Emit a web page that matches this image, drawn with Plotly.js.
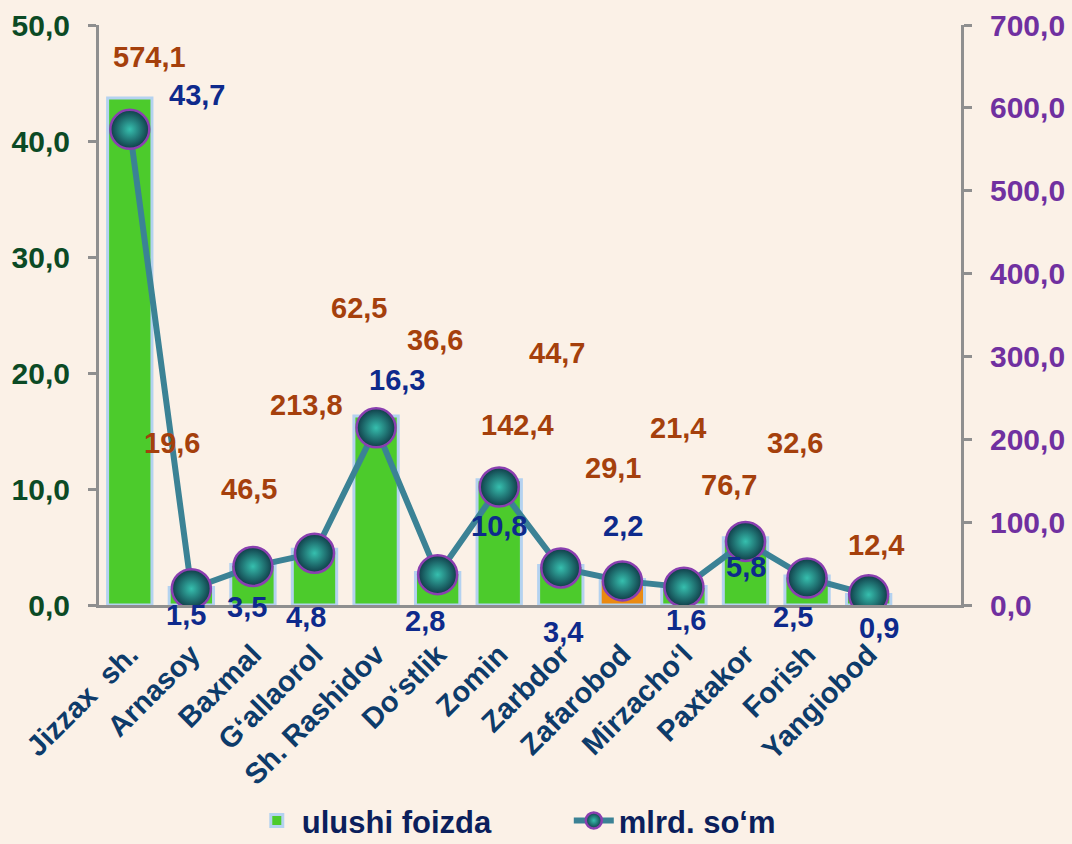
<!DOCTYPE html>
<html>
<head>
<meta charset="utf-8">
<script src="https://cdn.plot.ly/plotly-3.0.1.min.js"></script>
<style>
  html, body { margin: 0; padding: 0; background: #fbf1e7; }
  #chart { width: 1072px; height: 844px; }
</style>
</head>
<body>
<div id="chart"></div>
<script>
// ---- data ----
const categories = ["Jizzax\u00a0 sh.", "Arnasoy", "Baxmal", "G\u2018allaorol", "Sh. Rashidov", "Do\u2018stlik", "Zomin", "Zarbdor", "Zafarobod", "Mirzacho\u2018l", "Paxtakor", "Forish", "Yangiobod"];
const shareValues = [43.7, 1.5, 3.5, 4.8, 16.3, 2.8, 10.8, 3.4, 2.2, 1.6, 5.8, 2.5, 0.9];      // ulushi foizda
const amountValues = [574.1, 19.6, 46.5, 62.5, 213.8, 36.6, 142.4, 44.7, 29.1, 21.4, 76.7, 32.6, 12.4]; // mlrd. so'm
const seriesNames = ["ulushi foizda", "mlrd. so\u2018m"];

// ---- styles (not data) ----
const barColors = categories.map((c, i) => i === 8 ? "#ea8a12" : "#4ccb2c");
const shareLabelShift = [[67, 3], [-5, -27], [-6, -43], [-9, -68], [21, 36], [-13, -48], [0, -46], [2, -66], [1, 53], [2, -34], [0, -29], [-14, -41], [10, -33]];
const amountLabelShift = [[20, 72], [-19, 146], [-4, 77], [44, 245], [-70, 23], [-3, 235], [18, 62], [-4, 215], [-9, 113], [-6, 159], [-17, 56], [-12, 135], [7, 50]];

const fmt = v => v.toFixed(1).replace(".", ",");
const FAM = "Liberation Sans, Arial, sans-serif";
const labelFont = { family: FAM, size: 29, weight: "bold" };

const traces = [
  {
    type: "bar",
    name: seriesNames[0],
    x: categories,
    y: shareValues,
    width: 0.72,
    marker: { color: barColors, line: { color: "#b4d2f0", width: 3 } },
    yaxis: "y",
    hoverinfo: "x+y"
  },
  {
    type: "scatter",
    mode: "lines+markers",
    name: seriesNames[1],
    x: categories,
    y: amountValues,
    yaxis: "y2",
    line: { color: "#3b8295", width: 6 },
    marker: {
      size: 39,
      color: "#103c48",
      gradient: { type: "radial", color: "#36bfae" },
      line: { color: "#8a3fb0", width: 2.5 }
    }
  }
];

const annotations = [];
categories.forEach((c, i) => {
  annotations.push({
    x: c, y: shareValues[i], xref: "x", yref: "y",
    text: fmt(shareValues[i]), showarrow: false,
    xshift: shareLabelShift[i][0], yshift: shareLabelShift[i][1],
    font: Object.assign({ color: "#0e2a8c" }, labelFont)
  });
  annotations.push({
    x: c, y: amountValues[i], xref: "x", yref: "y2",
    text: fmt(amountValues[i]), showarrow: false,
    xshift: amountLabelShift[i][0], yshift: amountLabelShift[i][1],
    font: Object.assign({ color: "#a5400c" }, labelFont)
  });
});

const layout = {
  width: 1072, height: 844,
  paper_bgcolor: "#fbf1e7",
  plot_bgcolor: "#fbf1e7",
  separators: ", ",
  margin: { l: 99, r: 111, t: 25, b: 239, autoexpand: false },
  showlegend: true,
  legend: {
    orientation: "h",
    x: 0.545, xanchor: "center",
    y: -0.372, yanchor: "middle",
    font: { family: FAM, size: 31, weight: "bold", color: "#0b1f5c" },
    itemwidth: 40,
    entrywidth: 262,
    entrywidthmode: "pixels",
    traceorder: "normal",
    bgcolor: "rgba(0,0,0,0)"
  },
  xaxis: {
    type: "category",
    range: [-0.5, 13.5],
    showline: true, linecolor: "#8f8f8f", linewidth: 3,
    ticks: "", showgrid: false, zeroline: false,
    tickangle: -45,
    ticklabelstandoff: 18,
    tickfont: { family: FAM, size: 29, weight: "bold", color: "#0d3b6a" },
    automargin: false
  },
  yaxis: {
    range: [0, 50],
    dtick: 10,
    tickformat: ".1f",
    showline: true, linecolor: "#8f8f8f", linewidth: 3,
    ticks: "outside", ticklen: 8, tickwidth: 3, tickcolor: "#8f8f8f",
    showgrid: false, zeroline: false,
    ticklabelstandoff: 12,
    tickfont: { family: FAM, size: 30, weight: "bold", color: "#0b4a25" },
    automargin: false
  },
  yaxis2: {
    range: [0, 700],
    dtick: 100,
    tickformat: ".1f",
    overlaying: "y",
    side: "right",
    showline: true, linecolor: "#8f8f8f", linewidth: 3,
    ticks: "outside", ticklen: 8, tickwidth: 3, tickcolor: "#8f8f8f",
    showgrid: false, zeroline: false,
    ticklabelstandoff: 12,
    tickfont: { family: FAM, size: 30, weight: "bold", color: "#7030a0" },
    automargin: false
  },
  annotations: annotations
};

Plotly.newPlot("chart", traces, layout, { displayModeBar: false, staticPlot: true });
</script>
</body>
</html>
